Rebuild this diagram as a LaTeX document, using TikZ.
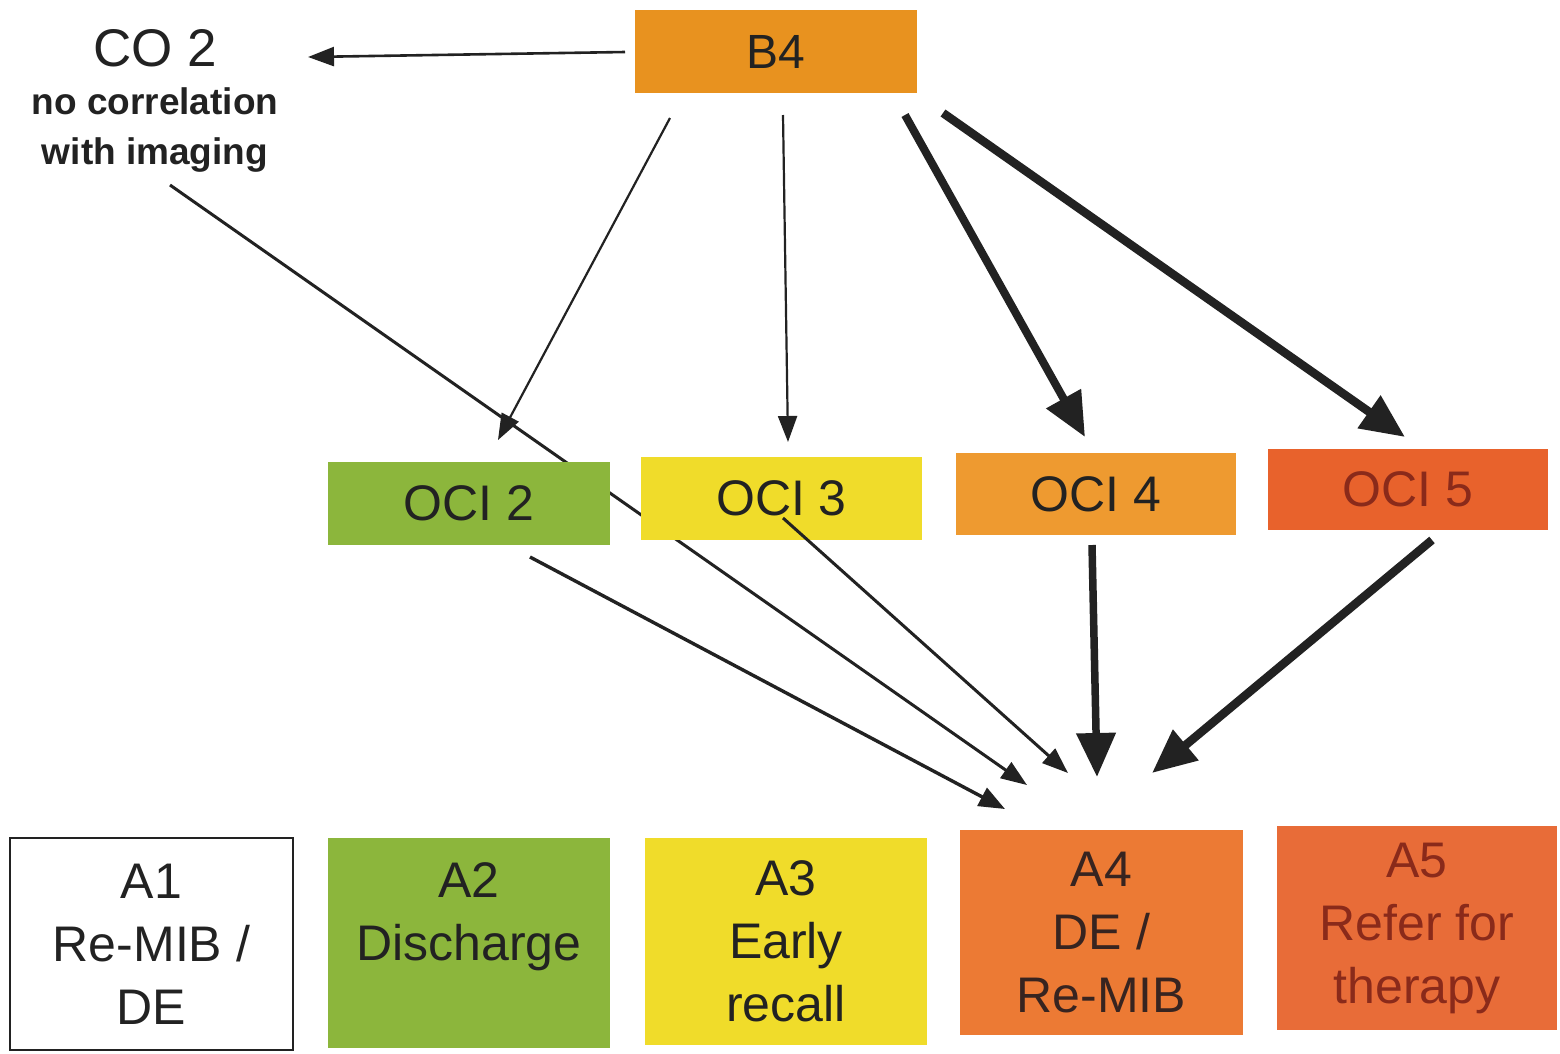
\documentclass[tikz,border=0pt]{standalone}
\usepackage{fontspec}
\setmainfont{Liberation Sans}
\usetikzlibrary{arrows.meta}
\definecolor{cB}{HTML}{E8921F}
\definecolor{cG}{HTML}{8CB63C}
\definecolor{cY}{HTML}{F0DC2A}
\definecolor{cO}{HTML}{EE9A30}
\definecolor{cR}{HTML}{E8622C}
\definecolor{cAfour}{HTML}{EC7A34}
\definecolor{cAfive}{HTML}{E86C38}
\definecolor{ink}{HTML}{222222}
\definecolor{redink}{HTML}{8A2A1A}
\begin{document}
\begin{tikzpicture}[x=1pt,y=-1pt,
  boxstyle/.style={rectangle, inner sep=0pt, align=center, text=ink,
    font=\fontsize{50}{63}\selectfont},
  thinarrow/.style={draw=ink, line width=2.6pt, -{Triangle[length=26pt,width=19pt]}},
  midarrow/.style={draw=ink, line width=3.4pt, -{Triangle[length=26pt,width=20pt]}},
  thickarrow/.style={draw=ink, line width=8.5pt, -{Triangle[length=44pt,width=38pt]}, shorten >=0pt}]
\useasboundingbox (0,0) rectangle (1560,1053);
\fill[white] (0,0) rectangle (1560,1053);

% long line behind boxes
\coordinate (coS) at (170,185);
\coordinate (coE) at (1027,785);
\draw[thinarrow, line width=3pt] (coS) -- (coE);

% boxes
\node[boxstyle, fill=cB, minimum width=282pt, minimum height=83pt, font=\fontsize{48}{58}\selectfont] (b4) at (776,51.5) {B4};
\node[boxstyle, fill=cG, minimum width=282pt, minimum height=83pt] (oci2) at (469,503.5) {OCI 2};
\node[boxstyle, fill=cY, minimum width=281pt, minimum height=83pt] (oci3) at (781.5,498.5) {OCI 3};
\node[boxstyle, fill=cO, minimum width=280pt, minimum height=82pt] (oci4) at (1096,494) {OCI 4};
\node[boxstyle, fill=cR, minimum width=280pt, minimum height=81pt, text=redink] (oci5) at (1408,489.5) {OCI 5};

\node[boxstyle, fill=white, draw=ink, line width=2pt, minimum width=283pt, minimum height=212pt] (a1) at (151.5,944) {A1\\Re-MIB /\\DE};
\node[boxstyle, fill=cG, minimum width=282pt, minimum height=210pt] (a2) at (469,943) {A2\\Discharge\\\mbox{}};
\node[boxstyle, fill=cY, minimum width=282pt, minimum height=207pt] (a3) at (786,941.5) {A3\\Early\\recall};
\node[boxstyle, fill=cAfour, minimum width=283pt, minimum height=205pt, text=ink!80!redink] (a4) at (1101.5,932.5) {A4\\DE /\\Re-MIB};
\node[boxstyle, fill=cAfive, minimum width=280pt, minimum height=204pt, text=redink] (a5) at (1417,928) {A5\\Refer for\\therapy};

% CO 2 label
\node[align=center, text=ink, font=\fontsize{53}{60}\selectfont] (co2) at (155,48) {CO 2};
\node[align=center, text=ink, font=\bfseries\fontsize{37}{50}\selectfont] (co2txt) at (155,130) {no correlation\\with imaging};

% coordinates
\coordinate (b4L) at (625,52);
\coordinate (co2R) at (308,57);
\coordinate (b4s2) at (670,118);
\coordinate (b4s3) at (783,115);
\coordinate (b4s4) at (905,115);
\coordinate (b4s5) at (943,113);
\coordinate (o2t) at (498,440);
\coordinate (o3t) at (788,442);
\coordinate (o4t) at (1085,437);
\coordinate (o5t) at (1405,437);
\coordinate (o2s) at (530,557);
\coordinate (o3s) at (783,518);
\coordinate (o4s) at (1092,545);
\coordinate (o5s) at (1432,540);
\coordinate (a4e2) at (1005,809);
\coordinate (a4e3) at (1068,773);
\coordinate (a4e4) at (1097,777);
\coordinate (a4e5) at (1152,773);

% arrows
\draw[thinarrow] (b4L) -- (co2R);
\draw[thinarrow, line width=2.2pt] (b4s2) -- (o2t);
\draw[thinarrow, line width=2.2pt] (b4s3) -- (o3t);
\draw[thickarrow, line width=8pt] (b4s4) -- (o4t);
\draw[thickarrow] (b4s5) -- (o5t);
\draw[midarrow] (o2s) -- (a4e2);
\draw[thinarrow, line width=3pt] (o3s) -- (a4e3);
\draw[thickarrow, line width=7.5pt] (o4s) -- (a4e4);
\draw[thickarrow] (o5s) -- (a4e5);
\end{tikzpicture}
\end{document}
